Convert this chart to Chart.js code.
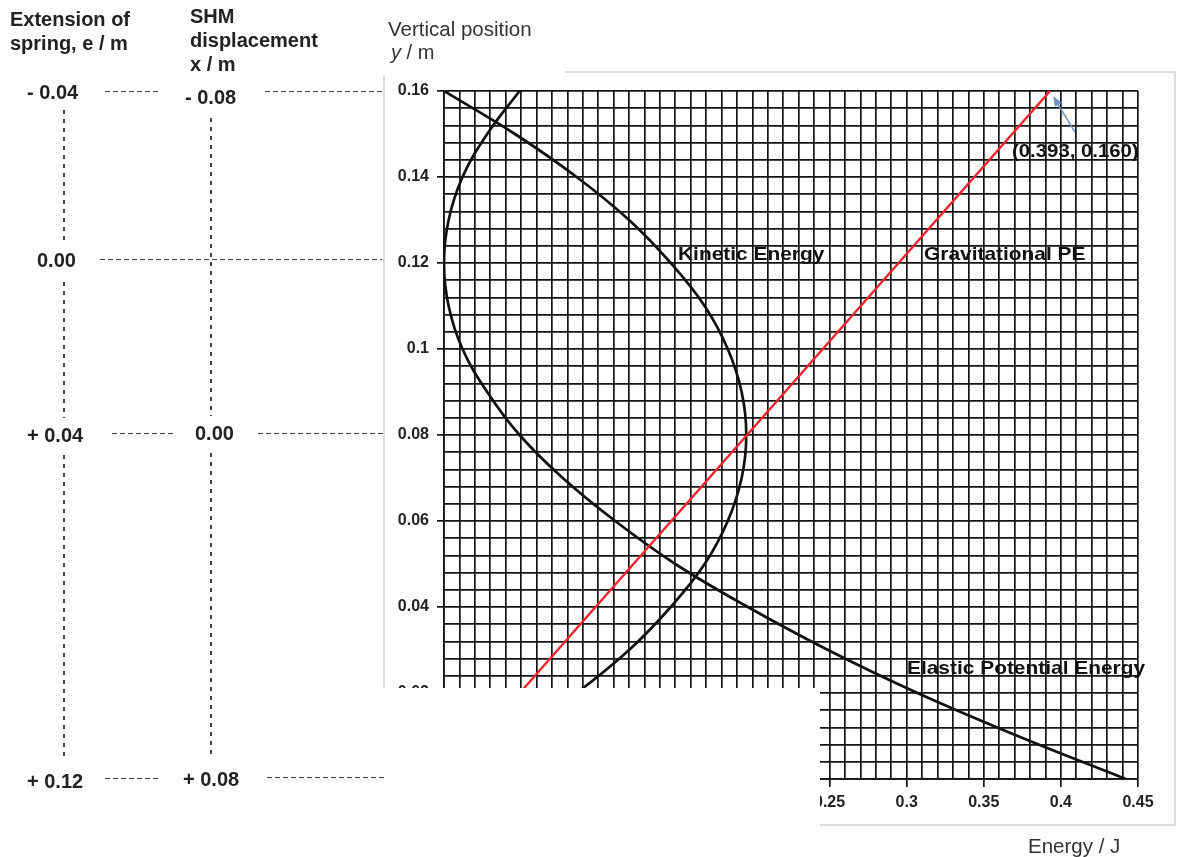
<!DOCTYPE html>
<html>
<head>
<meta charset="utf-8">
<script src="https://cdn.jsdelivr.net/npm/chart.js@4.4.1/dist/chart.umd.min.js"></script>
<style>
body { margin: 0; background: #fff; font-family: Arial, "Liberation Sans", sans-serif; }
#wrap { position: relative; width: 1179px; height: 857px; overflow: hidden; background: #fff; }
#c { position: absolute; left: 0; top: 0; }
.lbl { position: absolute; white-space: nowrap; color: #222; font-weight: bold; font-size: 20px; line-height: 24px; }
.in { position: absolute; white-space: nowrap; color: #111; font-weight: bold; font-size: 19px; line-height: 24px; transform: scaleX(1.1); transform-origin: 0 50%; }
.hd { position: absolute; height: 1px; background: repeating-linear-gradient(to right, #444 0 5px, transparent 5px 8px); }
.vd { position: absolute; width: 1.5px; background: repeating-linear-gradient(to bottom, #444 0 4px, transparent 4px 9px); }
.frame { position: absolute; background: #dcdcdc; }
.cover { position: absolute; background: #fff; }
</style>
</head>
<body>
<div id="wrap">
  <canvas id="c" width="1179" height="857"></canvas>

  <!-- bouts de cadre de l'image d'origine -->
  <div class="frame" style="left:565px; top:71px; width:611px; height:2px;"></div>
  <div class="frame" style="left:1174px; top:71px; width:2px; height:755px;"></div>
  <div class="frame" style="left:383px; top:76px; width:2px; height:612px;"></div>
  <!-- le coin bas gauche du graphe est masqué -->
  <div class="cover" style="left:385px; top:688px; width:435px; height:169px;"></div>
  <div class="frame" style="left:820px; top:824px; width:356px; height:2px;"></div>

  <!-- titres des axes -->
  <div class="lbl" style="left:388px; top:17px; font-weight:normal; font-size:20.5px; color:#333;">Vertical position</div>
  <div class="lbl" style="left:391px; top:40px; font-weight:normal; font-size:20px; color:#333;"><i>y</i> / m</div>
  <div class="lbl" style="left:1028px; top:834px; font-weight:normal; font-size:20.5px; color:#333;">Energy / J</div>

  <!-- colonnes de gauche -->
  <div class="lbl" style="left:10px; top:7px;">Extension of<br>spring, e / m</div>
  <div class="lbl" style="left:190px; top:4px;">SHM<br>displacement<br>x / m</div>

  <div class="lbl" style="left:27px; top:80px;">- 0.04</div>
  <div class="lbl" style="left:185px; top:85px;">- 0.08</div>
  <div class="lbl" style="left:37px; top:248px;">0.00</div>
  <div class="lbl" style="left:27px; top:423px;">+ 0.04</div>
  <div class="lbl" style="left:195px; top:421px;">0.00</div>
  <div class="lbl" style="left:27px; top:769px;">+ 0.12</div>
  <div class="lbl" style="left:183px; top:767px;">+ 0.08</div>

  <div class="hd" style="left:105px; top:91px; width:56px;"></div>
  <div class="hd" style="left:265px; top:91px; width:117px;"></div>
  <div class="hd" style="left:100px; top:259px; width:282px;"></div>
  <div class="hd" style="left:112px; top:433px; width:61px;"></div>
  <div class="hd" style="left:258px; top:433px; width:125px;"></div>
  <div class="hd" style="left:105px; top:778px; width:55px;"></div>
  <div class="hd" style="left:267px; top:777px; width:117px;"></div>

  <div class="vd" style="left:63px; top:110px; height:130px;"></div>
  <div class="vd" style="left:63px; top:282px; height:136px;"></div>
  <div class="vd" style="left:63px; top:455px; height:303px;"></div>
  <div class="vd" style="left:210px; top:118px; height:298px;"></div>
  <div class="vd" style="left:210px; top:453px; height:305px;"></div>

  <!-- noms des courbes -->
  <div class="in" style="left:678px; top:242px;">Kinetic Energy</div>
  <div class="in" style="left:924px; top:242px;">Gravitational PE</div>
  <div class="in" style="left:907px; top:656px;">Elastic Potential Energy</div>
  <div class="in" style="left:1012px; top:139px; font-size:18.5px;">(0.393, 0.160)</div>
</div>

<script>
// Position verticale y / m
const positionY = [0, 0.01, 0.02, 0.03, 0.04, 0.05, 0.06, 0.07, 0.08,
                   0.09, 0.10, 0.11, 0.12, 0.13, 0.14, 0.15, 0.16];
// Energie cinetique / J
const energieCinetique = [0, 0.046, 0.086, 0.120, 0.147, 0.169, 0.184, 0.193, 0.196,
                          0.193, 0.184, 0.169, 0.147, 0.120, 0.086, 0.046, 0];
// Energie potentielle elastique / J
const energieElastique = [0.442, 0.372, 0.307, 0.249, 0.197, 0.150, 0.111, 0.077, 0.049,
                          0.028, 0.012, 0.003, 0, 0.003, 0.012, 0.028, 0.049];
// Energie potentielle de pesanteur (droite)
const gravY = [0, 0.16];
const gravE = [0, 0.393];
// fleche vers le point (0.393, 0.160)
const flecheDe = [0.409, 0.1505];
const flecheA = [0.395, 0.1588];

const couleurGrille = '#151515';

function estMajeurX(v) { return Math.round(v * 100) % 5 === 0; }
function estMajeurY(v) { return Math.round(v * 1000) % 20 === 0; }

function points(xs, ys) {
    return ys.map((y, i) => ({ x: xs[i], y: y }));
}

// plugin pour dessiner la fleche bleue
const pluginFleche = {
    id: 'fleche',
    afterDatasetsDraw(chart) {
        const ctx = chart.ctx;
        const sx = chart.scales.x, sy = chart.scales.y;
        const x0 = sx.getPixelForValue(flecheDe[0]), y0 = sy.getPixelForValue(flecheDe[1]);
        const x1 = sx.getPixelForValue(flecheA[0]), y1 = sy.getPixelForValue(flecheA[1]);
        const ang = Math.atan2(y1 - y0, x1 - x0);
        ctx.save();
        ctx.strokeStyle = '#6a93cf';
        ctx.fillStyle = '#6a93cf';
        ctx.lineWidth = 1.5;
        ctx.beginPath();
        ctx.moveTo(x0, y0);
        ctx.lineTo(x1 - 6 * Math.cos(ang), y1 - 6 * Math.sin(ang));
        ctx.stroke();
        ctx.beginPath();
        ctx.moveTo(x1, y1);
        ctx.lineTo(x1 - 10 * Math.cos(ang) + 4 * Math.sin(ang), y1 - 10 * Math.sin(ang) - 4 * Math.cos(ang));
        ctx.lineTo(x1 - 10 * Math.cos(ang) - 4 * Math.sin(ang), y1 - 10 * Math.sin(ang) + 4 * Math.cos(ang));
        ctx.closePath();
        ctx.fill();
        ctx.restore();
    }
};

const ctx = document.getElementById('c').getContext('2d');
const myChart = new Chart(ctx, {
    type: 'scatter',
    data: {
        datasets: [
            {
                label: 'Gravitational PE',
                data: points(gravE, gravY),
                showLine: true,
                borderColor: '#f0232b',
                borderWidth: 2.4,
                pointRadius: 0
            },
            {
                label: 'Kinetic Energy',
                data: points(energieCinetique, positionY),
                showLine: true,
                borderColor: '#111',
                borderWidth: 2.7,
                pointRadius: 0,
                tension: 0.4
            },
            {
                label: 'Elastic Potential Energy',
                data: points(energieElastique, positionY),
                showLine: true,
                borderColor: '#111',
                borderWidth: 2.7,
                pointRadius: 0,
                tension: 0.4
            }
        ]
    },
    options: {
        responsive: false,
        animation: false,
        layout: { padding: { left: 0, top: 91, right: 41, bottom: 0 } },
        plugins: { legend: { display: false }, tooltip: { enabled: false } },
        scales: {
            x: {
                type: 'linear',
                min: 0,
                max: 0.45,
                afterFit: function (s) { s.height = 78; },
                ticks: {
                    stepSize: 0.01,
                    autoSkip: false,
                    maxRotation: 0,
                    padding: 6,
                    color: '#222',
                    font: { family: 'Arial', size: 16, weight: 'bold' },
                    callback: v => estMajeurX(v) ? String(Math.round(v * 100) / 100) : ''
                },
                grid: {
                    color: couleurGrille,
                    lineWidth: 1.7,
                    tickLength: 8,
                    tickColor: c => (c.tick && estMajeurX(c.tick.value)) ? couleurGrille : 'rgba(0,0,0,0)'
                },
                border: { color: couleurGrille, width: 1.7 }
            },
            y: {
                type: 'linear',
                min: 0,
                max: 0.16,
                afterFit: function (s) { s.width = 444; },
                ticks: {
                    stepSize: 0.004,
                    autoSkip: false,
                    padding: 8,
                    color: '#222',
                    font: { family: 'Arial', size: 16, weight: 'bold' },
                    callback: v => estMajeurY(v) ? String(Math.round(v * 1000) / 1000) : ''
                },
                grid: {
                    color: couleurGrille,
                    lineWidth: 1.7,
                    tickLength: 7,
                    tickColor: c => (c.tick && estMajeurY(c.tick.value)) ? couleurGrille : 'rgba(0,0,0,0)'
                },
                border: { color: couleurGrille, width: 1.7 }
            }
        }
    },
    plugins: [pluginFleche]
});
</script>
</body>
</html>
